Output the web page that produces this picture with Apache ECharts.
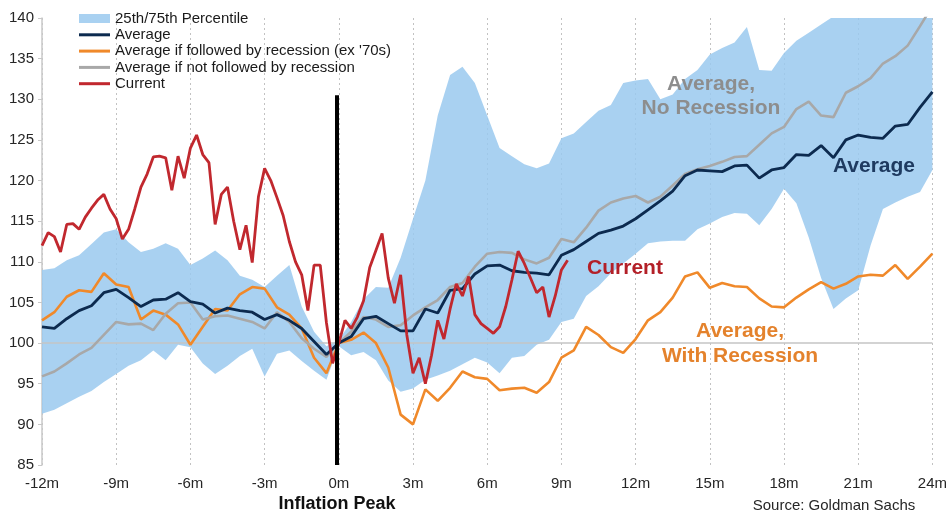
<!DOCTYPE html>
<html>
<head>
<meta charset="utf-8">
<script src="https://cdn.jsdelivr.net/npm/echarts@6/dist/echarts.min.js"></script>
<style>
  html, body { margin: 0; padding: 0; background: #ffffff; }
  #chart { width: 950px; height: 514px; }
</style>
</head>
<body>
<div id="chart"></div>
<script>
// Months relative to the inflation peak (half-month steps for the historical averages)
const monthsHalf = Array.from({ length: 73 }, (_, i) => -12 + i * 0.5);
// Current cycle is sampled in quarter-month steps, ending ~9 months after the peak
const monthsCurrent = Array.from({ length: 86 }, (_, i) => -12 + i * 0.25);

const yTicks = [85, 90, 95, 100, 105, 110, 115, 120, 125, 130, 135, 140];

// S&P 500 indexed to 100 at the inflation peak
const pctLow = [
  91.3, 91.8, 92.6, 93.4, 94.1, 95.2, 96.2, 97.2, 97.9, 99.1,
  97.9, 99.8, 99.5, 97.5, 96.2, 97.2, 98.4, 99.3, 95.9, 98.7,
  99.1, 97.8, 96.6, 95.5, 99.6, 98.5, 98.9, 97.9, 95.4, 94.0,
  94.4, 95.5, 96.0, 96.6, 97.4, 98.2, 97.6, 96.3, 98.2, 98.4,
  99.8, 100.4, 102.6, 103.0, 105.8, 107.0, 108.6, 109.8, 111.0, 112.3,
  112.5, 112.6, 112.6, 114.0, 114.7, 115.5, 116.0, 115.9, 114.5, 116.5,
  119.0, 117.2, 113.0, 108.0, 104.2, 105.5, 106.5, 112.0, 116.5, 117.3,
  118.0, 118.6, 121.3
];
const pctHigh = [
  109.0, 109.2, 110.2, 110.8, 112.2, 113.6, 114.0, 112.4, 111.2, 111.6,
  112.3, 111.6, 109.6, 110.4, 111.4, 110.2, 108.3, 107.8, 106.9, 108.3,
  109.6, 104.5, 101.4, 99.6, 100.4, 102.6, 105.4, 106.9, 106.8, 110.5,
  115.3, 120.0, 128.0, 133.0, 134.0, 132.0, 128.0, 124.0, 123.0, 122.0,
  121.5, 122.1, 125.2, 125.8, 127.2, 128.6, 129.3, 132.0, 132.3, 132.5,
  130.0, 130.6, 132.5, 133.6, 135.5, 136.3, 137.0, 138.9, 133.6, 133.5,
  135.7, 137.2, 138.2, 139.2, 140.2, 141.0, 142.0, 142.0, 143.0, 143.0,
  144.0, 144.0, 145.0
];
const average = [
  102.0, 101.8, 103.0, 104.0, 104.6, 106.2, 106.6, 105.6, 104.5, 105.3,
  105.4, 106.2, 105.1, 104.8, 103.7, 104.3, 104.0, 103.8, 102.9, 103.5,
  102.8, 101.8, 100.2, 98.6, 100.0, 100.8, 103.0, 103.3, 102.4, 101.5,
  101.5, 104.2, 103.7, 106.5, 106.7, 108.5, 109.5, 109.6, 108.9, 108.7,
  108.6, 108.4, 110.8, 111.5, 112.5, 113.5, 113.9, 114.4, 115.3, 116.4,
  117.5, 118.7, 120.6, 121.3, 121.2, 121.1, 121.8, 121.9, 120.3, 121.3,
  121.6, 123.2, 123.1, 124.3, 122.8, 125.0, 125.6, 125.3, 125.2, 126.7,
  126.9, 129.0, 130.9
];
const withRecession = [
  102.8, 103.8, 105.7, 106.5, 106.3, 108.6, 107.2, 106.9, 102.9, 104.0,
  103.5, 102.3, 99.8, 102.0, 104.2, 104.0, 106.0, 106.9, 106.7, 104.4,
  103.5, 101.8, 98.2, 96.3, 100.0, 100.4, 101.3, 100.0, 97.0, 91.2,
  90.0, 94.3, 92.9, 94.5, 96.5, 95.8, 95.6, 94.2, 94.4, 94.5,
  93.9, 95.2, 98.2, 99.1, 102.0, 101.0, 99.5, 98.8, 100.5, 102.8,
  103.8, 105.6, 108.2, 108.7, 106.8, 107.4, 107.0, 106.9, 105.5, 104.5,
  104.4, 105.6, 106.6, 107.5, 106.7, 107.3, 108.2, 108.4, 108.3, 109.6,
  107.9, 109.4, 111.0
];
const noRecession = [
  95.9, 96.5, 97.5, 98.6, 99.4, 101.0, 102.6, 102.3, 102.4, 101.6,
  103.6, 104.9, 105.0, 102.9, 103.3, 103.4, 103.0, 102.6, 101.8, 103.8,
  102.6, 100.6, 99.3, 98.3, 100.0, 101.4, 103.2, 102.9, 102.0, 102.2,
  103.4, 104.4, 105.3, 106.9, 107.4, 109.4, 111.0, 111.2, 111.1, 110.3,
  109.8, 110.5, 112.8, 112.4, 114.2, 116.3, 117.3, 117.8, 118.1, 117.3,
  118.0, 119.4, 120.8, 121.4, 121.8, 122.3, 122.9, 123.0, 124.4, 125.8,
  126.6, 128.8, 129.7, 128.0, 127.8, 130.8, 131.6, 132.6, 134.4, 135.3,
  136.6, 139.0, 141.5
];
const current = [
  112.0, 113.6, 113.1, 111.2, 114.6, 114.7, 114.0, 115.5, 116.6, 117.6,
  118.3, 116.5, 115.3, 112.8, 114.0, 116.5, 119.2, 120.8, 122.9, 123.0,
  122.8, 118.8, 123.0, 120.3, 124.0, 125.6, 123.2, 122.2, 114.6, 118.3,
  119.2, 115.0, 111.5, 114.5, 109.9, 118.0, 121.5, 120.0, 117.9, 115.7,
  112.5, 110.0, 108.4, 104.0, 109.6, 109.6, 102.5, 97.5, 100.0, 102.8,
  101.8, 103.2, 105.2, 109.3, 111.4, 113.5, 108.0, 104.9, 108.4, 101.0,
  96.3, 98.2, 95.0, 98.5, 102.8, 100.5, 104.2, 107.3, 105.8, 108.2,
  103.5, 102.4, 101.8, 101.2, 102.0, 104.5, 107.8, 111.3, 109.8, 108.0,
  106.2, 106.9, 103.2, 105.8, 109.0, 110.2
];

const peakMonth = -0.1;   // inflation peak marker
const peakTop = 130.5;

const C = {
  band: '#a9d1f1',
  bandFill: 'rgba(154, 201, 239, 0.85)',
  navy: '#0c2a4f',
  orange: '#f0892a',
  gray: '#a8a8a8',
  red: '#c1282e',
  text: '#262626'
};

const pairs = (xs, ys) => ys.map((v, i) => [xs[i], v]);
const lineIcon = 'path://M0,0 H31 V3 H0 Z';
const FONT = '"Liberation Sans", Arial, sans-serif';

// Percentile band: one polygon through the upper edge and back along the lower edge
function renderBand(params, api) {
  if (params.dataIndex !== 0) return null;
  const upper = monthsHalf.map((m, i) => api.coord([m, pctHigh[i]]));
  const lower = monthsHalf.map((m, i) => api.coord([m, pctLow[i]])).reverse();
  return {
    type: 'polygon',
    shape: { points: upper.concat(lower) },
    style: { fill: C.bandFill }
  };
}

function label(text, x, y, font, fill) {
  return {
    type: 'text', x, y, z: 100,
    style: { text, textAlign: 'center', textVerticalAlign: 'middle', font, fill }
  };
}

const chart = echarts.init(document.getElementById('chart'), null, { renderer: 'canvas' });

chart.setOption({
  animation: false,
  backgroundColor: '#ffffff',
  grid: { left: 42, right: 15, top: 18, bottom: 49 },
  legend: {
    orient: 'vertical',
    left: 79,
    top: 11,
    padding: 0,
    itemWidth: 31,
    itemHeight: 9,
    itemGap: 1.3,
    selectedMode: false,
    textStyle: { fontFamily: FONT, fontSize: 15, color: '#1a1a1a', lineHeight: 15 },
    data: [
      { name: '25th/75th Percentile', icon: 'rect' },
      { name: 'Average', icon: lineIcon },
      { name: "Average if followed by recession (ex '70s)", icon: lineIcon },
      { name: 'Average if not followed by recession', icon: lineIcon },
      { name: 'Current', icon: lineIcon }
    ]
  },
  xAxis: {
    type: 'value',
    min: -12,
    max: 24,
    interval: 3,
    axisLine: { show: false },
    axisTick: { show: false },
    axisLabel: {
      margin: 11,
      formatter: v => v + 'm',
      fontFamily: FONT,
      fontSize: 15,
      color: C.text
    },
    splitLine: { show: true, lineStyle: { color: '#c2c2c2', width: 1, type: [2, 3] } }
  },
  yAxis: {
    type: 'value',
    min: yTicks[0],
    max: yTicks[yTicks.length - 1],
    interval: 5,
    axisLine: { show: true, onZero: false, lineStyle: { color: '#c8c8c8', width: 1.5 } },
    axisTick: { show: true, length: 4, lineStyle: { color: '#c8c8c8' } },
    axisLabel: { margin: 8, fontFamily: FONT, fontSize: 15, color: C.text },
    splitLine: { show: false }
  },
  series: [
    {
      name: '25th/75th Percentile',
      type: 'custom',
      renderItem: renderBand,
      data: monthsHalf.map((m, i) => [m, pctLow[i], pctHigh[i]]),
      encode: { x: 0, y: [1, 2] },
      clip: true,
      silent: true,
      itemStyle: { color: C.band },
      z: 1,
      markLine: {
        silent: true,
        z: 2,
        symbol: ['none', 'none'],
        label: { show: false },
        lineStyle: { color: '#c4c4c4', width: 1.5, type: 'solid' },
        data: [{ yAxis: 100 }]
      }
    },
    {
      name: "Average if followed by recession (ex '70s)",
      type: 'line',
      data: pairs(monthsHalf, withRecession),
      symbol: 'none',
      color: C.orange,
      lineStyle: { color: C.orange, width: 2.6 },
      z: 3
    },
    {
      name: 'Average if not followed by recession',
      type: 'line',
      data: pairs(monthsHalf, noRecession),
      symbol: 'none',
      color: C.gray,
      lineStyle: { color: C.gray, width: 2.6 },
      z: 3
    },
    {
      name: 'Average',
      type: 'line',
      data: pairs(monthsHalf, average),
      symbol: 'none',
      color: C.navy,
      lineStyle: { color: C.navy, width: 2.8 },
      z: 4
    },
    {
      name: 'Current',
      type: 'line',
      data: pairs(monthsCurrent, current),
      symbol: 'none',
      color: C.red,
      lineStyle: { color: C.red, width: 2.8 },
      z: 5,
      markLine: {
        silent: true,
        z: 10,
        symbol: ['none', 'none'],
        label: { show: false },
        lineStyle: { color: '#000000', width: 4, type: 'solid' },
        data: [[{ coord: [peakMonth, yTicks[0]] }, { coord: [peakMonth, peakTop] }]]
      }
    }
  ],
  graphic: [
    label('Average,', 711, 84, 'bold 21px ' + FONT, '#8d8d8d'),
    label('No Recession', 711, 108, 'bold 21px ' + FONT, '#8d8d8d'),
    label('Average', 874, 166, 'bold 21px ' + FONT, '#1e3a60'),
    label('Current', 625, 268, 'bold 21px ' + FONT, '#b31f27'),
    label('Average,', 740, 331, 'bold 21px ' + FONT, '#e4822c'),
    label('With Recession', 740, 356, 'bold 21px ' + FONT, '#e4822c'),
    label('Inflation Peak', 337, 504, 'bold 18px ' + FONT, '#111111'),
    label('Source: Goldman Sachs', 834, 506, '15px ' + FONT, '#262626')
  ]
});
</script>
</body>
</html>
